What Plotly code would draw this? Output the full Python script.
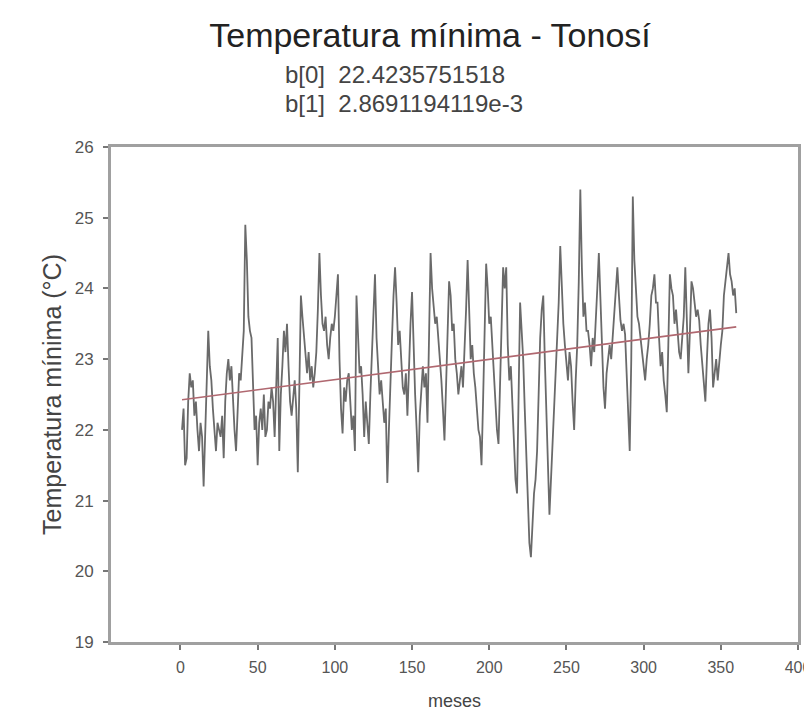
import plotly.graph_objects as go

# monthly minimum temperature (°C), months 1..360
year_values = [
    [22.0, 22.3, 21.5, 21.6, 22.4, 22.8, 22.6, 22.7, 22.2, 22.4, 22.0, 21.7],
    [22.1, 21.9, 21.2, 22.0, 22.6, 23.4, 22.9, 22.7, 22.3, 22.0, 21.7, 22.1],
    [22.0, 21.9, 22.2, 21.6, 22.4, 22.8, 23.0, 22.7, 22.9, 22.4, 22.0, 21.7],
    [22.3, 22.8, 22.7, 23.0, 23.4, 24.9, 24.4, 23.6, 23.4, 23.3, 22.6, 22.0],
    [22.2, 21.5, 22.1, 22.3, 22.0, 22.5, 21.9, 22.0, 22.4, 22.3, 22.6, 22.4],
    [21.9, 22.6, 23.3, 21.7, 22.5, 22.9, 23.4, 23.1, 23.5, 22.9, 22.4, 22.2],
    [22.5, 22.7, 22.3, 21.4, 22.6, 23.9, 23.6, 23.3, 23.0, 22.8, 23.1, 22.7],
    [22.9, 22.6, 22.8, 23.1, 23.7, 24.5, 23.9, 23.5, 23.4, 23.6, 23.2, 23.0],
    [23.3, 23.5, 23.4, 23.6, 23.9, 24.2, 23.0, 22.3, 21.95, 22.6, 22.4, 22.7],
    [22.8, 22.3, 22.0, 22.2, 21.7, 23.9, 23.4, 22.8, 22.9, 22.5, 21.9, 22.4],
    [22.1, 21.8, 22.5, 23.0, 23.6, 24.2, 23.3, 22.9, 22.5, 22.7, 22.4, 22.1],
    [22.3, 21.25, 22.0, 22.8, 23.3, 23.9, 24.3, 23.8, 23.2, 23.4, 22.9, 22.6],
    [22.5, 22.8, 22.2, 23.0, 23.5, 23.95, 23.1, 22.5, 22.0, 21.4, 22.2, 22.6],
    [22.9, 22.6, 22.8, 22.1, 23.4, 24.5, 24.0, 23.7, 23.5, 23.6, 23.3, 23.1],
    [22.7, 22.3, 21.85, 22.6, 23.3, 24.1, 23.9, 23.4, 23.5, 23.0, 22.8, 22.5],
    [22.7, 22.9, 22.6, 23.1, 23.7, 24.4, 23.8, 23.0, 23.2, 22.8, 22.6, 22.3],
    [22.0, 21.9, 21.5, 22.4, 23.2, 24.35, 24.0, 23.5, 23.6, 23.2, 22.9, 22.4],
    [22.0, 21.8, 22.6, 23.5, 24.3, 24.0, 24.3, 23.2, 22.7, 22.9, 22.4, 22.0],
    [21.3, 21.1, 22.5, 23.8, 23.4, 23.0, 22.3, 21.6, 21.0, 20.4, 20.2, 20.6],
    [21.1, 21.3, 21.7, 22.5, 23.3, 23.7, 23.9, 23.0, 22.2, 21.4, 20.8, 21.3],
    [21.8, 22.3, 22.6, 23.1, 23.8, 24.6, 24.0, 23.5, 23.2, 22.9, 22.7, 23.1],
    [22.9, 22.4, 22.0, 22.7, 23.2, 24.1, 25.4, 24.3, 23.6, 23.8, 23.4, 23.4],
    [23.2, 22.9, 23.3, 23.1, 23.5, 24.0, 24.5, 23.8, 23.1, 22.6, 22.3, 22.8],
    [23.0, 23.2, 23.0, 23.3, 23.6, 24.0, 24.3, 23.9, 23.55, 23.4, 23.5, 23.35],
    [22.8, 22.2, 21.7, 23.0, 25.3, 24.4, 23.9, 23.6, 23.5, 23.3, 23.1, 22.9],
    [22.7, 23.0, 23.2, 23.5, 23.9, 24.0, 24.2, 23.8, 23.8, 23.3, 22.9, 23.1],
    [22.7, 22.5, 22.25, 23.2, 24.2, 24.0, 23.9, 23.5, 23.7, 23.4, 23.1, 23.0],
    [23.3, 23.6, 24.3, 23.5, 22.8, 23.4, 24.1, 24.0, 23.8, 23.6, 23.7, 23.55],
    [23.2, 22.9, 22.7, 22.4, 23.0, 23.5, 23.7, 23.3, 22.6, 22.8, 23.0, 22.7],
    [23.0, 23.2, 23.4, 23.9, 24.1, 24.3, 24.5, 24.2, 24.1, 23.9, 24.0, 23.65],
]
temps = [v for yr in year_values for v in yr]
months = list(range(1, len(temps) + 1))

b0 = 22.4235751518
b1 = 2.8691194119e-3
trend_x = [months[0], months[-1]]
trend_y = [b0 + b1 * m for m in trend_x]

x_ticks = [0, 50, 100, 150, 200, 250, 300, 350, 400]
y_ticks = [19, 20, 21, 22, 23, 24, 25, 26]

fig = go.Figure()
fig.add_trace(go.Scatter(x=months, y=temps, mode="lines",
                         line=dict(color="#6a6a6a", width=1.8), showlegend=False))
fig.add_trace(go.Scatter(x=trend_x, y=trend_y, mode="lines",
                         line=dict(color="#b06870", width=1.6), showlegend=False))

font_family = "Liberation Sans, Arial, sans-serif"
W, H = 804, 703
fig.update_layout(
    width=W, height=H,
    margin=dict(l=103, r=14, t=139, b=69),
    paper_bgcolor="white", plot_bgcolor="white",
    font=dict(family=font_family, color="#333"),
    title=dict(text="Temperatura mínima - Tonosí", x=422 / W, xanchor="center",
               y=1 - 27 / H, yanchor="middle",
               font=dict(size=34, color="#222", family=font_family)),
    annotations=[
        dict(text="b[0]  22.4235751518", xref="paper", yref="paper",
             x=0.2504, y=1 + 72 / 495, xanchor="left", yanchor="middle",
             showarrow=False, font=dict(size=24, color="#444")),
        dict(text="b[1]  2.8691194119e-3", xref="paper", yref="paper",
             x=0.2504, y=1 + 44 / 495, xanchor="left", yanchor="middle",
             showarrow=False, font=dict(size=24, color="#444")),
    ],
)
fig.update_xaxes(range=[-45, 400], tickvals=x_ticks, showgrid=False, zeroline=False,
                 showline=True, linecolor="#a0a0a0", linewidth=3, mirror=True,
                 ticks="outside", ticklen=5, tickcolor="#777", tickwidth=2,
                 ticklabelstandoff=4, ticklabeloverflow="allow", automargin=False,
                 tickfont=dict(size=16, color="#555"),
                 title=dict(text="meses", font=dict(size=18, color="#444"), standoff=40))
fig.update_yaxes(range=[19, 26], tickvals=y_ticks, showgrid=False, zeroline=False,
                 showline=True, linecolor="#a0a0a0", linewidth=3, mirror=True,
                 ticks="outside", ticklen=5, tickcolor="#777", tickwidth=2,
                 ticklabelstandoff=6, automargin=False,
                 tickfont=dict(size=17, color="#555"),
                 title=dict(text="Temperatura mínima (°C)", font=dict(size=25, color="#444"),
                            standoff=6))

fig.write_html("out.html")
